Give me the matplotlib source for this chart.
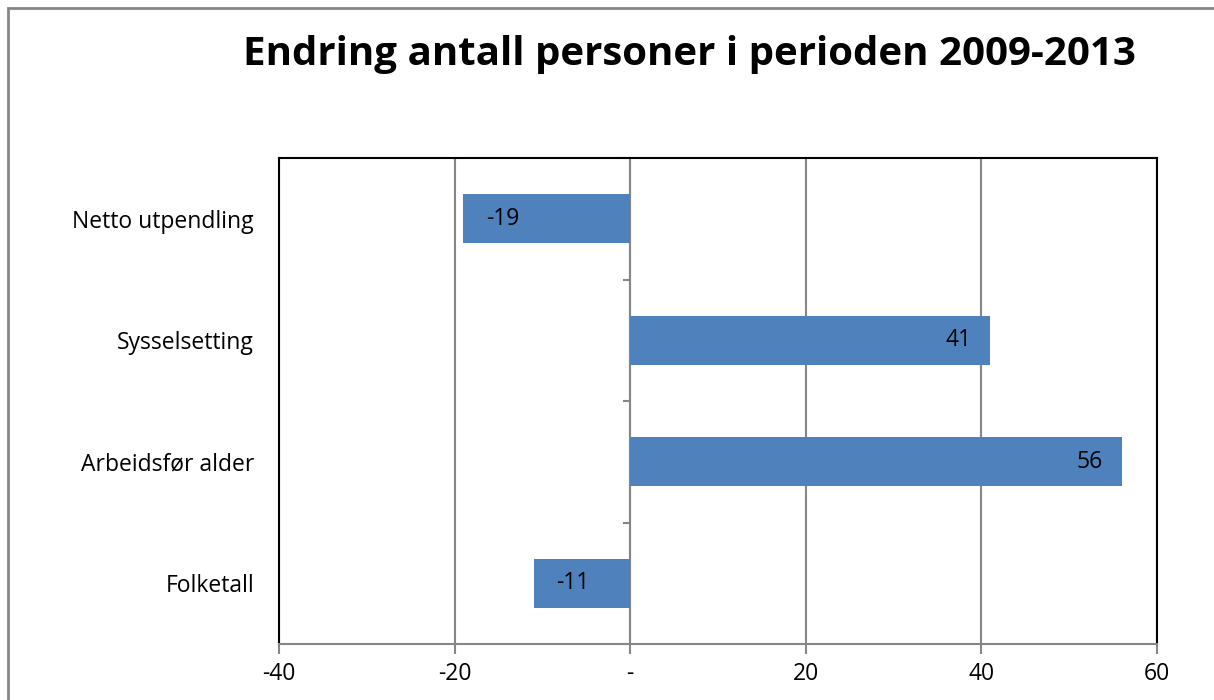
import matplotlib
matplotlib.use("Agg")
import matplotlib.pyplot as plt
from matplotlib.patches import Rectangle
from matplotlib.ticker import FuncFormatter, FixedLocator

plt.rcParams["font.family"] = ["Open Sans", "DejaVu Sans"]

# data
categories = ["Folketall", "Arbeidsfør alder", "Sysselsetting", "Netto utpendling"]
values = [-11, 56, 41, -19]
x_ticks = [-40, -20, 0, 20, 40, 60]

BAR_COLOR = "#4F81BD"
GRID_GREY = "#868686"
FS = 16.5

fig = plt.figure(figsize=(12.14, 7.0), dpi=100)
ax = fig.add_axes([279 / 1214, 1 - 644 / 700, (1157 - 279) / 1214, (644 - 158) / 700])

ypos = list(range(len(categories)))
ax.barh(ypos, values, height=0.4, color=BAR_COLOR, zorder=3)

ax.set_xlim(x_ticks[0], x_ticks[-1])
ax.set_ylim(-0.5, len(categories) - 0.5)
ax.set_xticks(x_ticks)
ax.xaxis.set_major_formatter(FuncFormatter(lambda v, p: "-" if v == 0 else f"{v:.0f}"))
ax.set_yticks(ypos)
ax.set_yticklabels(categories)
ax.tick_params(axis="y", length=0, pad=18, labelsize=FS)
ax.tick_params(axis="x", length=7, width=1.5, color=GRID_GREY, pad=6, labelsize=FS)

ax.grid(axis="x", color=GRID_GREY, lw=1.5, zorder=0)
ax.set_axisbelow(True)

for side in ["left", "top", "right"]:
    ax.spines[side].set_color("black")
    ax.spines[side].set_linewidth(1.5)
ax.spines["bottom"].set_color(GRID_GREY)
ax.spines["bottom"].set_linewidth(1.5)

# category axis at x = 0
zero_frac = (0 - x_ticks[0]) / (x_ticks[-1] - x_ticks[0])
sec = ax.secondary_yaxis(zero_frac)
sec.spines["left"].set_color(GRID_GREY)
sec.spines["left"].set_linewidth(1.5)
sec.yaxis.set_major_locator(FixedLocator([y + 0.5 for y in range(-1, len(categories))]))
sec.tick_params(axis="y", length=5, width=1.5, color=GRID_GREY, labelleft=False)

# value labels inside bar ends
for y, v in zip(ypos, values):
    if v >= 0:
        ax.annotate(f"{v}", (v, y), xytext=(-19, 0), textcoords="offset pixels",
                    ha="right", va="center", fontsize=FS, zorder=4)
    else:
        ax.annotate(f"{v}", (v, y), xytext=(23, 0), textcoords="offset pixels",
                    ha="left", va="center", fontsize=FS, zorder=4)

fig.text(689 / 1214, 1 - 54 / 700, "Endring antall personer i perioden 2009-2013",
         ha="center", va="center", fontsize=29, fontweight="bold")

# outer chart frame (runs off the right and bottom edges)
fig.add_artist(Rectangle((8 / 1214, -0.1), 1.2, 1.1 - 8 / 700, transform=fig.transFigure,
                         fill=False, ec=GRID_GREY, lw=2, clip_on=False))

fig.savefig("out.png", dpi=100)
